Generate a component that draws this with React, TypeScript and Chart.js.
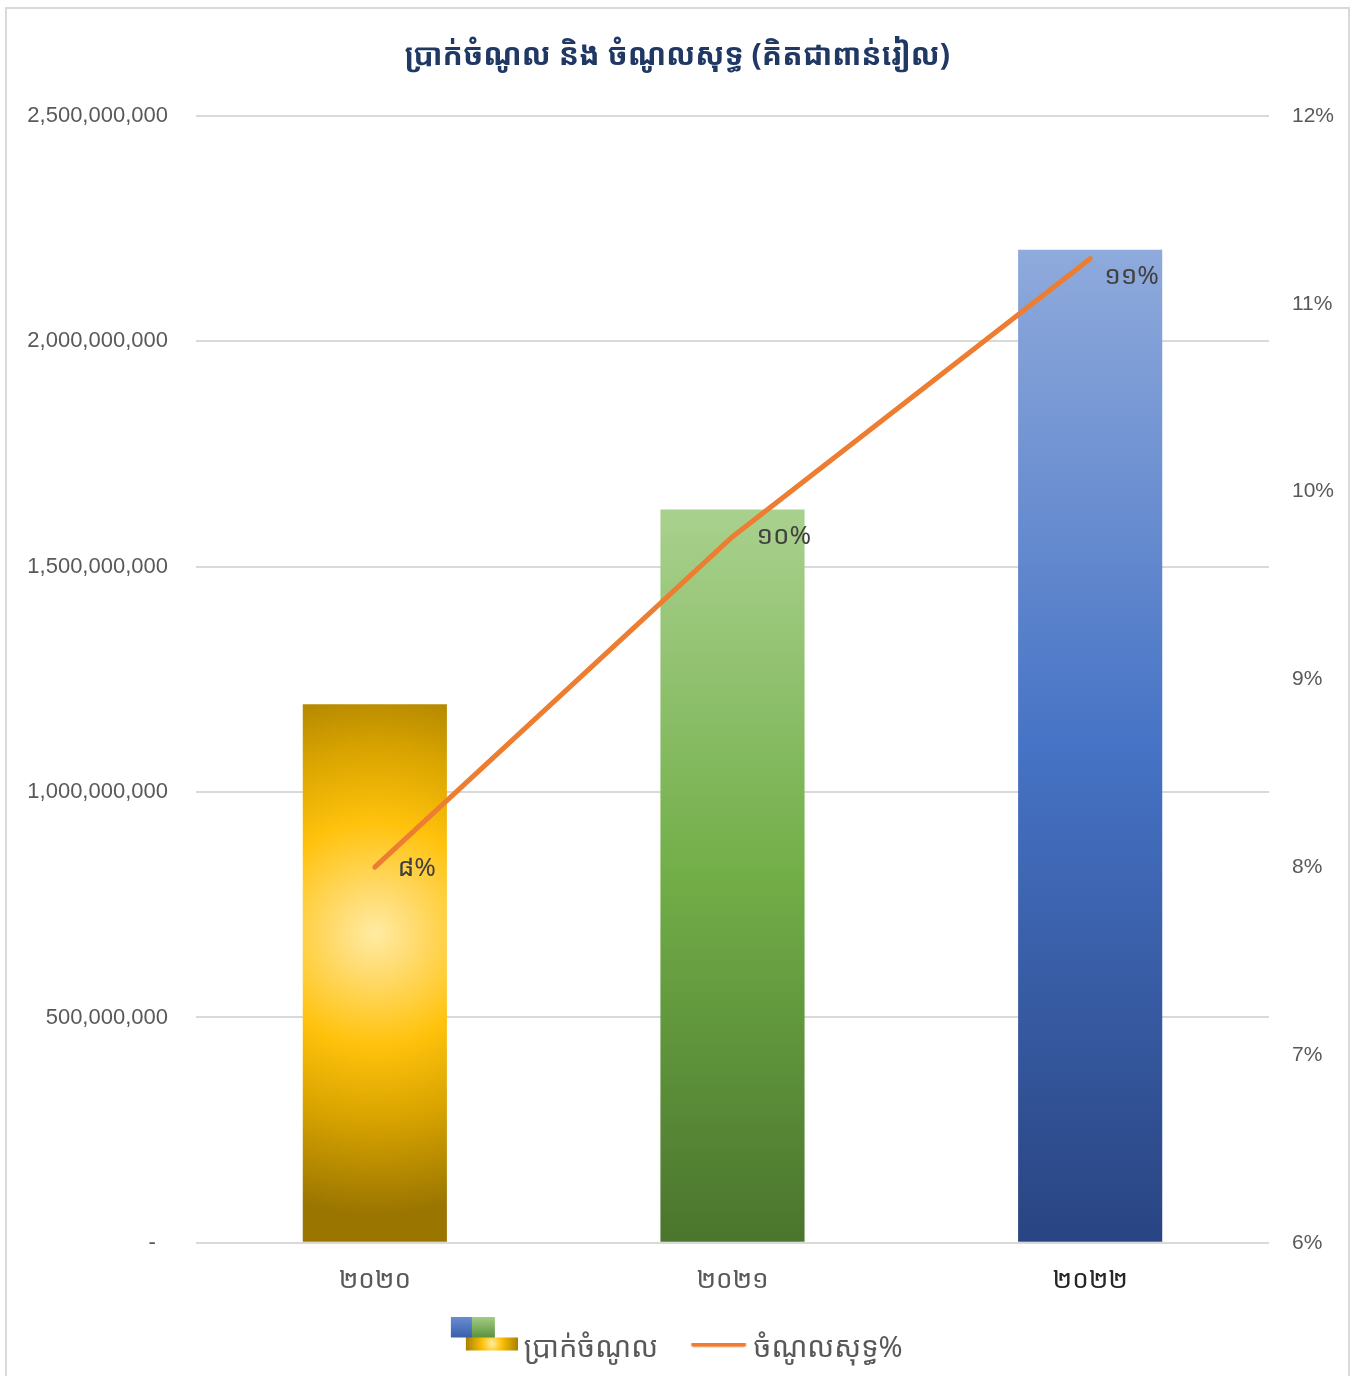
import { useEffect, useRef } from 'react';
import { Chart, registerables } from 'chart.js';

Chart.register(...registerables);

const title = 'ប្រាក់ចំណូល និង ចំណូលសុទ្ធ (គិតជាពាន់រៀល)';
const categories = ['២០២០', '២០២១', '២០២២'];
const revenue = [1195000000, 1627000000, 2203000000];
const netIncomePct = [8.0, 9.76, 11.24];
const pointLabels = ['៨%', '១០%', '១១%'];
const leftTickLabels = ['-', '500,000,000', '1,000,000,000', '1,500,000,000', '2,000,000,000', '2,500,000,000'];
const rightTickLabels = ['6%', '7%', '8%', '9%', '10%', '11%', '12%'];
const seriesNames = ['ប្រាក់ចំណូល', 'ចំណូលសុទ្ធ%'];

const KH = "'Noto Sans Khmer', 'Khmer OS Battambang', 'Khmer OS System', 'Khmer OS', 'Noto Sans', sans-serif";
const NUM = "'Liberation Sans', 'Noto Sans', sans-serif";

const LEG_FS = 29;
const LEG_BW = 57;

function makeBarIcon(): HTMLCanvasElement {
  const W = LEG_BW + LEG_FS - 12;
  const c = document.createElement('canvas');
  c.width = W;
  c.height = 64;
  const g = c.getContext('2d')!;
  const ox = W - 67;
  let lg = g.createLinearGradient(0, 0, 0, 21);
  lg.addColorStop(0, '#6A8FD6');
  lg.addColorStop(1, '#3A5FAA');
  g.fillStyle = lg;
  g.fillRect(ox, 0, 21, 21);
  lg = g.createLinearGradient(0, 0, 0, 21);
  lg.addColorStop(0, '#A3CF86');
  lg.addColorStop(1, '#5C923C');
  g.fillStyle = lg;
  g.fillRect(ox + 21, 0, 23, 21);
  const rg = g.createRadialGradient(ox + 41, 27, 0, ox + 41, 27, 28);
  rg.addColorStop(0, '#FFEFA8');
  rg.addColorStop(0.35, '#FFC20A');
  rg.addColorStop(1, '#A07A00');
  g.fillStyle = rg;
  g.fillRect(ox + 15, 21, 52, 13);
  return c;
}

function makeLineIcon(): HTMLCanvasElement {
  const gap = 5;
  const W = 2 * (LEG_BW / 2 + LEG_FS / 2 - gap);
  const c = document.createElement('canvas');
  c.width = Math.round(W);
  c.height = 12;
  const g = c.getContext('2d')!;
  g.strokeStyle = '#ED7D31';
  g.lineWidth = 5;
  g.lineCap = 'round';
  g.beginPath();
  g.moveTo(c.width - 55, 2);
  g.lineTo(c.width - 5, 2);
  g.stroke();
  return c;
}

function barGeom(chart: any, i: number) {
  const xs = chart.scales.x;
  const ys = chart.scales.y;
  const cx = xs.getPixelForValue(i);
  const top = ys.getPixelForValue(revenue[i]);
  const base = ys.getPixelForValue(0);
  return { cx, top, base };
}

function barFill(context: any) {
  const chart = context.chart;
  const i = context.dataIndex;
  const fallback = ['#FFC000', '#70AD47', '#4472C4'][i] || '#4472C4';
  if (!chart.chartArea || !chart.scales.x || !chart.scales.y) return fallback;
  const ctx = chart.ctx;
  const { cx, top, base } = barGeom(chart, i);
  const h = base - top;
  if (i === 0) {
    const cy = base - 0.574 * h;
    const R = 0.52 * h;
    const g = ctx.createRadialGradient(cx, cy, 0, cx, cy, R);
    g.addColorStop(0, '#FFEBA3');
    g.addColorStop(0.14, '#FFDC72');
    g.addColorStop(0.4, '#FFC20C');
    g.addColorStop(0.66, '#D9A400');
    g.addColorStop(1, '#9A7500');
    return g;
  }
  if (i === 1) {
    const g = ctx.createLinearGradient(0, top, 0, base);
    g.addColorStop(0, '#A9D18E');
    g.addColorStop(0.5, '#72AE48');
    g.addColorStop(1, '#4A752D');
    return g;
  }
  const g = ctx.createLinearGradient(0, top, 0, base);
  g.addColorStop(0, '#8FAADC');
  g.addColorStop(0.5, '#4673C5');
  g.addColorStop(1, '#294482');
  return g;
}

const pointLabelPlugin = {
  id: 'pointLabels',
  afterDatasetsDraw(chart: any) {
    const meta = chart.getDatasetMeta(1);
    const ctx = chart.ctx;
    const dx = [23, 24, 14];
    const dy = [1, 0, 18];
    ctx.save();
    ctx.font = `26px ${KH}`;
    ctx.fillStyle = '#404040';
    ctx.textAlign = 'left';
    ctx.textBaseline = 'middle';
    meta.data.forEach((pt: any, i: number) => {
      ctx.fillText(pointLabels[i], pt.x + dx[i], pt.y + dy[i]);
    });
    ctx.restore();
  },
};

export default function App() {
  const ref = useRef<HTMLCanvasElement | null>(null);
  useEffect(() => {
    if (!ref.current) return;
    const barIcon = makeBarIcon();
    const lineIcon = makeLineIcon();
    const chart = new Chart(ref.current, {
      type: 'bar',
      data: {
        labels: categories,
        datasets: [
          {
            type: 'bar',
            label: seriesNames[0],
            data: revenue,
            yAxisID: 'y',
            backgroundColor: barFill as any,
            borderWidth: 0,
            barPercentage: 0.403,
            categoryPercentage: 1,
            order: 1,
          },
          {
            type: 'line',
            label: seriesNames[1],
            data: netIncomePct,
            yAxisID: 'y1',
            borderColor: '#ED7D31',
            borderWidth: 5,
            borderCapStyle: 'round',
            borderJoinStyle: 'round',
            pointRadius: 0,
            pointHoverRadius: 0,
            tension: 0,
            fill: false,
            order: 0,
          } as any,
        ],
      },
      options: {
        animation: false,
        responsive: false,
        maintainAspectRatio: false,
        layout: { padding: { left: 0, right: 0, top: 0, bottom: 3 } },
        plugins: {
          tooltip: { enabled: false },
          title: {
            display: true,
            text: title,
            color: '#203864',
            font: { family: KH, size: 30, weight: 'bold', lineHeight: 1.2 },
            padding: { top: 38, bottom: 42 },
          },
          legend: {
            display: true,
            position: 'bottom',
            labels: {
              usePointStyle: true,
              pointStyleWidth: LEG_BW,
              boxWidth: LEG_BW,
              boxHeight: LEG_FS,
              padding: 24,
              color: '#595959',
              font: { family: KH, size: LEG_FS },
              generateLabels: () => [
                {
                  text: seriesNames[0],
                  pointStyle: barIcon as any,
                  fillStyle: '#FFC000',
                  strokeStyle: 'transparent',
                  lineWidth: 0,
                  hidden: false,
                  datasetIndex: 0,
                  fontColor: '#595959',
                } as any,
                {
                  text: seriesNames[1],
                  pointStyle: lineIcon as any,
                  fillStyle: '#ED7D31',
                  strokeStyle: 'transparent',
                  lineWidth: 0,
                  hidden: false,
                  datasetIndex: 1,
                  fontColor: '#595959',
                } as any,
              ],
            },
          },
        },
        scales: {
          x: {
            grid: { display: false },
            border: { display: false },
            ticks: {
              color: (c: any) => (c.index === 2 ? '#262626' : '#595959'),
              font: { family: KH, size: 26 },
              padding: 14,
            },
          },
          y: {
            position: 'left',
            min: 0,
            max: 2500000000,
            grid: { color: '#D9D9D9', lineWidth: 2, drawTicks: false },
            border: { display: false },
            ticks: {
              stepSize: 500000000,
              color: '#595959',
              font: { family: NUM, size: 22 },
              padding: 28,
              callback: (_v: any, idx: number) => (idx === 0 ? leftTickLabels[0] + '  ' : leftTickLabels[idx]),
            },
            afterFit: (s: any) => {
              s.width = 196;
            },
          },
          y1: {
            position: 'right',
            min: 6,
            max: 12,
            grid: { display: false, drawTicks: false },
            border: { display: false },
            ticks: {
              stepSize: 1,
              color: '#595959',
              font: { family: NUM, size: 21 },
              padding: 23,
              callback: (_v: any, idx: number) => rightTickLabels[idx],
            },
            afterFit: (s: any) => {
              s.width = 86;
            },
          },
        },
      },
      plugins: [pointLabelPlugin],
    });
    return () => chart.destroy();
  }, []);

  return (
    <div style={{ position: 'absolute', left: 0, top: 0, width: 1355, height: 1376, overflow: 'hidden', background: '#FFFFFF' }}>
      <canvas ref={ref} width={1355} height={1376} style={{ position: 'absolute', left: 0, top: 0, width: 1355, height: 1376 }} />
      <div
        style={{
          position: 'absolute',
          left: 5,
          top: 7,
          width: 1341,
          height: 1400,
          border: '2px solid #D9D9D9',
          pointerEvents: 'none',
        }}
      />
    </div>
  );
}
